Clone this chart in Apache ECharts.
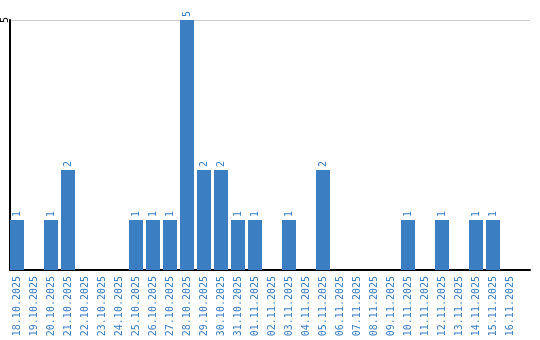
<!DOCTYPE html>
<html>
<head>
<meta charset="utf-8">
<script src="https://cdn.jsdelivr.net/npm/echarts@6/dist/echarts.min.js"></script>
<style>html,body{margin:0;padding:0;background:#fff}#c{width:540px;height:340px}</style>
</head>
<body>
<div id="c"></div>
<script>
var dates = ["18.10.2025","19.10.2025","20.10.2025","21.10.2025","22.10.2025","23.10.2025","24.10.2025","25.10.2025","26.10.2025","27.10.2025","28.10.2025","29.10.2025","30.10.2025","31.10.2025","01.11.2025","02.11.2025","03.11.2025","04.11.2025","05.11.2025","06.11.2025","07.11.2025","08.11.2025","09.11.2025","10.11.2025","11.11.2025","12.11.2025","13.11.2025","14.11.2025","15.11.2025","16.11.2025"];
var counts = [1,0,1,2,0,0,0,1,1,1,5,2,2,1,1,0,1,0,2,0,0,0,0,1,0,1,0,1,1,0];
var yTicks = [0, 5];

var blue = '#3b7ec2';
var font = '"DejaVu Sans Mono", "Liberation Mono", monospace';
var idx = dates.map(function(d,i){return i;});
var chart = echarts.init(document.getElementById('c'), null, {renderer:'canvas'});
chart.setOption({
  animation: false,
  grid: {left: 10, right: 10, top: 20, bottom: 70, containLabel: false, outerBoundsMode: 'none'},
  xAxis: {
    type: 'value',
    min: -7/17, max: 513/17,
    axisLine: {show: true, onZero: false, lineStyle: {color: '#000', width: 2}},
    axisTick: {show: false},
    splitLine: {show: false},
    axisLabel: {
      customValues: idx,
      rotate: 90, margin: 6,
      color: blue, fontFamily: font, fontSize: 10,
      formatter: function(v){ return dates[Math.round(v)]; }
    }
  },
  yAxis: {
    type: 'value', min: yTicks[0], max: yTicks[1], interval: yTicks[1]-yTicks[0],
    axisLine: {show: true, onZero: false, lineStyle: {color: '#000', width: 2}},
    axisTick: {show: false},
    splitLine: {show: true, lineStyle: {color: '#cccccc', width: 1}},
    axisLabel: {showMinLabel: false, rotate: 90, margin: 5, color: '#000', fontFamily: font, fontSize: 10,
      formatter: '{a|{value}}',
      rich: {a: {fontFamily: font, fontSize: 10, color: '#000', align: 'center', verticalAlign: 'middle', padding: [0, 0, 0, 0]}},
      align: 'center', verticalAlign: 'middle'}
  },
  series: [{
    type: 'bar',
    barWidth: 14,
    data: counts.map(function(v,i){return [i, v];}),
    itemStyle: {color: blue},
    label: {
      show: true, position: 'top', rotate: 90, align: 'left', verticalAlign: 'middle',
      distance: 3, color: blue, fontFamily: font, fontSize: 10,
      formatter: function(p){ return p.value[1] ? String(p.value[1]) : ''; }
    }
  }]
});
chart.on('finished', function(){});
</script>
</body>
</html>
